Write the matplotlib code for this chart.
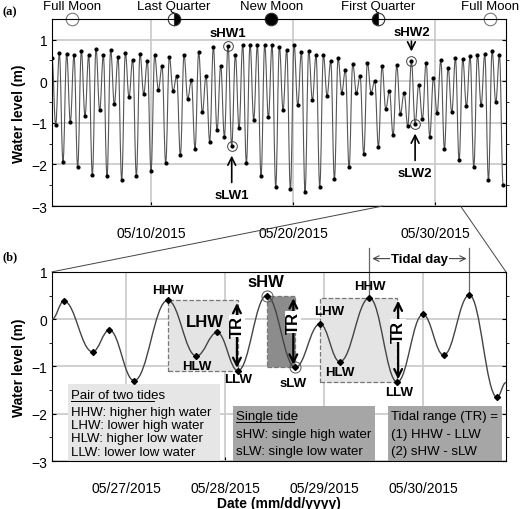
import numpy as np
import matplotlib
matplotlib.use("Agg")
import matplotlib.pyplot as plt
from matplotlib.path import Path
from matplotlib.patches import PathPatch, Rectangle, ConnectionPatch

plt.rcParams['font.family'] = ['Liberation Sans', 'DejaVu Sans']

# (a) successive high / low waters, May 3 - Jun 3 2015 (day of May)
top_levels = [0.55, -1.05, 0.67, -1.93, 0.65, -0.97, 0.62, -2.07, 0.72, -0.83,
              0.62, -2.25, 0.78, -0.70, 0.62, -2.28, 0.75, -0.55, 0.58, -2.37,
              0.68, -0.38, 0.52, -2.27, 0.65, -0.30, 0.48, -2.15, 0.62, -0.20,
              0.36, -1.97, 0.58, -0.23, 0.12, -1.78, 0.63, -0.42, 0.02, -1.62,
              0.70, -0.75, 0.13, -1.45, 0.83, -1.18, 0.37, -1.33, 0.85, -1.55,
              0.63, -1.13, 0.88, -1.97, 0.88, -0.92, 0.87, -2.28, 0.88, -0.87,
              0.87, -2.53, 0.83, -0.68, 0.75, -2.60, 0.88, -0.58, 0.70, -2.65,
              0.73, -0.45, 0.62, -2.53, 0.63, -0.35, 0.48, -2.35, 0.55, -0.27,
              0.27, -2.07, 0.42, -0.28, 0.13, -1.75, 0.45, -0.27, 0.00, -1.57,
              0.37, -0.67, -0.23, -1.30, 0.38, -0.78, -0.28, -1.08, 0.48, -1.02,
              -0.08, -0.90, 0.45, -1.33, 0.08, -0.77, 0.50, -1.62, 0.32, -0.75,
              0.55, -1.90, 0.53, -0.60, 0.60, -2.07, 0.63, -0.57, 0.65, -2.37,
              0.73, -0.50, 0.62, -2.50]
top_start, top_end = 3.0, 34.8
top_days = np.linspace(top_start, top_end, len(top_levels))

# (b) zoom, May 26.25 - May 30.84
bot_days = [26.25, 26.37, 26.66, 26.83, 27.08, 27.42, 27.71, 27.92, 28.13, 28.42,
            28.71, 28.96, 29.16, 29.46, 29.74, 30.00, 30.21, 30.47, 30.75, 30.84]
bot_levels = [0.0, 0.38, -0.69, -0.23, -1.30, 0.40, -0.78, -0.28, -1.09, 0.50,
              -1.02, -0.10, -0.90, 0.45, -1.33, 0.10, -0.76, 0.51, -1.65, -1.34]

moon_names = ['Full Moon', 'Last Quarter', 'New Moon', 'First Quarter', 'Full Moon']
moon_days = [4.44, 11.6, 18.45, 26.0, 33.9]


def tide_path(xs, ys):
    verts = [(xs[0], ys[0])]
    codes = [Path.MOVETO]
    for x0, y0, x1, y1 in zip(xs[:-1], ys[:-1], xs[1:], ys[1:]):
        dx = x1 - x0
        verts += [(x0 + 0.4 * dx, y0), (x1 - 0.4 * dx, y1), (x1, y1)]
        codes += [Path.CURVE4] * 3
    return Path(verts, codes)


fig = plt.figure(figsize=(5.2, 5.1), dpi=100)
ax1 = fig.add_axes([0.1, 0.594, 0.873, 0.367])
ax2 = fig.add_axes([0.1, 0.094, 0.873, 0.371])

gc = '#c8c8c8'
for ax in (ax1, ax2):
    ax.tick_params(labelsize=10, direction='in', length=3)
    for s in ax.spines.values():
        s.set_linewidth(0.8)

# ---- panel a
ax1.set_xlim(top_start, 35.0)
ax1.set_ylim(-3, 1.5)
ax1.set_yticks([-3, -2, -1, 0, 1])
ax1.set_yticklabels(['\u22123', '\u22122', '\u22121', '0', '1'])
ax1.set_yticks(np.arange(-2.5, 1.5, 1.0), minor=True)
ax1.tick_params(axis='y', which='both', right=True)
ax1.set_xticks([10, 20, 30])
ax1.set_xticklabels(['05/10/2015', '05/20/2015', '05/30/2015'])
ax1.tick_params(axis='x', pad=14)
ax1.grid(True, color=gc, lw=1.2)
ax1.set_axisbelow(True)
ax1.add_patch(PathPatch(tide_path(top_days, top_levels), fc='none', ec='#555555', lw=0.8))
ax1.plot(top_days, top_levels, 'o', color='black', ms=2)
ax1.set_ylabel('Water level (m)', fontsize=10, fontweight='bold')

for name, d in zip(moon_names, moon_days):
    ax1.text(d, 1.8, name, ha='center', va='center', fontsize=9.5, clip_on=False)
kw = dict(marker='o', ms=9, clip_on=False, mew=0.8, linestyle='none')
ax1.plot([moon_days[0], moon_days[4]], [1.5, 1.5], mfc='white', mec='#777777', **kw)
ax1.plot([moon_days[2]], [1.5], mfc='black', mec='#333333', **kw)
ax1.plot([moon_days[1]], [1.5], fillstyle='right', mfc='black', markerfacecoloralt='white', mec='#333333', **kw)
ax1.plot([moon_days[3]], [1.5], fillstyle='left', mfc='black', markerfacecoloralt='white', mec='#333333', **kw)


def nearest(day):
    i = int(np.argmin(np.abs(top_days - day)))
    return top_days[i], top_levels[i]


bold = dict(fontsize=9.5, fontweight='bold', ha='center', va='center')
for day, lab, up in [(15.41, 'sHW1', True), (15.67, 'sLW1', False),
                     (28.33, 'sHW2', True), (28.59, 'sLW2', False)]:
    x, y = nearest(day)
    ax1.plot(x, y, 'o', mfc='none', mec='#444444', ms=7, mew=0.7)
    if lab == 'sHW1':
        ax1.text(x, y + 0.3, lab, **bold)
    elif up:
        ax1.annotate('', xy=(x, y + 0.17), xytext=(x, y + 0.55),
                     arrowprops=dict(arrowstyle='->', lw=1.2, mutation_scale=14))
        ax1.text(x, y + 0.7, lab, **bold)
    else:
        ax1.annotate('', xy=(x, y - 0.17), xytext=(x, y - 0.95),
                     arrowprops=dict(arrowstyle='->', lw=1.2, mutation_scale=14))
        ax1.text(x, y - 1.18, lab, **bold)

# ---- panel b
ax2.set_xlim(bot_days[0], bot_days[-1])
ax2.set_ylim(-3, 1)
ax2.set_yticks([-3, -2, -1, 0, 1])
ax2.set_yticklabels(['\u22123', '\u22122', '\u22121', '0', '1'])
ax2.set_yticks(np.arange(-2.5, 1.0, 1.0), minor=True)
ax2.tick_params(axis='y', which='both', right=True)
ax2.set_xticks([27, 28, 29, 30])
ax2.set_xticklabels(['05/27/2015', '05/28/2015', '05/29/2015', '05/30/2015'])
ax2.tick_params(axis='x', pad=14)
ax2.grid(True, color=gc, lw=1.2)
ax2.set_axisbelow(True)
ax2.set_ylabel('Water level (m)', fontsize=10, fontweight='bold')
ax2.set_xlabel('Date (mm/dd/yyyy)', fontsize=10, fontweight='bold', labelpad=1)

# shaded pair / single tide boxes
ax2.add_patch(Rectangle((27.42, -1.09), 0.71, 1.49, fc='#e4e4e4', ec='#777777', ls='--', lw=0.9, zorder=1))
ax2.add_patch(Rectangle((28.42, -1.02), 0.29, 1.52, fc='#8c8c8c', ec='#777777', ls='--', lw=0.9, zorder=1))
ax2.add_patch(Rectangle((28.96, -1.33), 0.78, 1.78, fc='#e4e4e4', ec='#777777', ls='--', lw=0.9, zorder=1))

ax2.add_patch(PathPatch(tide_path(bot_days, bot_levels), fc='none', ec='#444444', lw=1.0, zorder=3))
ax2.plot(bot_days[1:-1], bot_levels[1:-1], 'D', color='black', ms=3, zorder=4)
ax2.plot([28.42, 28.71], [0.50, -1.02], 'o', mfc='none', mec='#555555', ms=8, mew=0.7, zorder=4)

for x, y0, y1 in [(28.12, 0.40, -1.09), (28.69, 0.50, -1.02), (29.75, 0.45, -1.33)]:
    ax2.annotate('', xy=(x, y1), xytext=(x, y0),
                 arrowprops=dict(arrowstyle='<->', lw=1.6, mutation_scale=14), zorder=5)
    ax2.text(x, (y0 + y1) / 2 + 0.2, 'TR', rotation=90, fontsize=12, fontweight='bold',
             ha='center', va='center', zorder=6, bbox=dict(fc='white', ec='none', pad=0.3))

for x, y, s, fs in [(27.42, 0.62, 'HHW', 9.5), (27.80, -0.05, 'LHW', 12), (27.71, -0.99, 'HLW', 9.5),
                    (28.13, -1.27, 'LLW', 9.5), (28.41, 0.79, 'sHW', 12), (28.69, -1.36, 'sLW', 9.5),
                    (29.05, 0.18, 'LHW', 9.5), (29.16, -1.11, 'HLW', 9.5), (29.46, 0.70, 'HHW', 9.5),
                    (29.76, -1.55, 'LLW', 9.5)]:
    ax2.text(x, y, s, fontsize=fs, fontweight='bold', ha='center', va='center', zorder=6)

# tidal day
for x in (29.46, 30.47):
    ax2.plot([x, x], [bot_levels[bot_days.index(x)], 1.5], color='#666666', lw=0.9, clip_on=False)
ax2.annotate('', xy=(29.46, 1.28), xytext=(30.47, 1.28), annotation_clip=False,
             arrowprops=dict(arrowstyle='<->', lw=0.8, color='#444444'))
ax2.text(29.965, 1.28, 'Tidal day', fontsize=9.5, fontweight='bold', ha='center', va='center',
         bbox=dict(fc='white', ec='none', pad=0.5), clip_on=False)

# legend boxes
ax2.add_patch(Rectangle((26.41, -3), 1.54, 1.62, fc='#e6e6e6', ec='none', zorder=2))
ax2.add_patch(Rectangle((28.08, -3), 1.44, 1.16, fc='#a6a6a6', ec='none', zorder=2))
ax2.add_patch(Rectangle((29.65, -3), 1.15, 1.16, fc='#a6a6a6', ec='none', zorder=2))
box_txt = dict(fontsize=9.5, ha='left', va='center', zorder=6)
for y, s in zip([-1.60, -1.96, -2.23, -2.52, -2.81],
                ['Pair of two tides', 'HHW: higher high water', 'LHW: lower high water',
                 'HLW: higher low water', 'LLW: lower low water']):
    ax2.text(26.44, y, s, **box_txt)
ax2.plot([26.44, 27.28], [-1.72, -1.72], color='black', lw=0.7, zorder=6)
for y, s in zip([-2.05, -2.43, -2.78], ['Single tide', 'sHW: single high water', 'sLW: single low water']):
    ax2.text(28.11, y, s, **box_txt)
ax2.plot([28.11, 28.70], [-2.17, -2.17], color='black', lw=0.7, zorder=6)
for y, s in zip([-2.05, -2.43, -2.78], ['Tidal range (TR) =', '(1) HHW - LLW', '(2) sHW - sLW']):
    ax2.text(29.68, y, s, **box_txt)

# zoom connectors
for xa, xb in [(26.3, bot_days[0]), (31.8, bot_days[-1])]:
    fig.add_artist(ConnectionPatch(xyA=(xa, -3), coordsA=ax1.transData,
                                   xyB=(xb, 1), coordsB=ax2.transData, color='#444444', lw=0.7))

fig.text(0.005, 0.975, '(a)', fontsize=9, fontweight='bold', family='Liberation Serif', va='center')
fig.text(0.005, 0.496, '(b)', fontsize=9, fontweight='bold', family='Liberation Serif', va='center')

fig.savefig('out.png', dpi=100)
